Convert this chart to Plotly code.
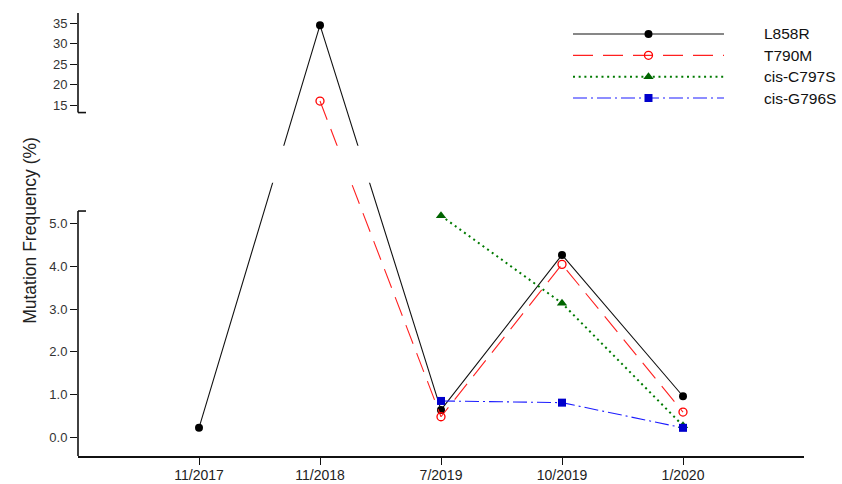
import plotly.graph_objects as go

# ---------------- data ----------------
dates = ["11/2017", "11/2018", "7/2019", "10/2019", "1/2020"]
series_names = ["L858R", "T790M", "cis-C797S", "cis-G796S"]
l858r = [0.22, 34.5, 0.64, 4.27, 0.96]
t790m = [None, 16.0, 0.48, 4.05, 0.59]
c797s = [None, None, 5.19, 3.14, 0.27]
g796s = [None, None, 0.85, 0.81, 0.22]
lower_ticks = [0, 1, 2, 3, 4, 5]
lower_tick_text = ["0.0", "1.0", "2.0", "3.0", "4.0", "5.0"]
upper_ticks = [15, 20, 25, 30, 35]
upper_tick_text = ["15", "20", "25", "30", "35"]

# ---------------- broken-axis mapping ----------------
LOWER_TOP = 5.96        # top of lower segment (data = display)
UPPER_BOTTOM = 6.83     # display value at bottom of upper segment
UPPER_REF = 15.0        # data value of reference tick in upper segment
UPPER_REF_DISP = 7.781  # display value of that tick
UPPER_SCALE = 0.09609   # display units per data unit in upper segment


def disp(v):
    if v is None:
        return None
    if v <= LOWER_TOP:
        return v
    return UPPER_REF_DISP + (v - UPPER_REF) * UPPER_SCALE


FONT = "Arial, Liberation Sans, sans-serif"
styles = {
    "L858R": dict(line=dict(color="#111111", width=1.1),
                  marker=dict(symbol="circle", size=8, color="#000000")),
    "T790M": dict(line=dict(color="#ff2020", width=1.1, dash="20px,10px"),
                  marker=dict(symbol="circle-open", size=8, color="#ff0000",
                              line=dict(width=1.3))),
    "cis-C797S": dict(line=dict(color="#007a00", width=2, dash="2px,3.7px"),
                      marker=dict(symbol="triangle-up", size=9, color="#006400")),
    "cis-G796S": dict(line=dict(color="#1c1cff", width=1.1, dash="14px,4px,2px,4px"),
                      marker=dict(symbol="square", size=8, color="#0000cc")),
}
values = {"L858R": l858r, "T790M": t790m, "cis-C797S": c797s, "cis-G796S": g796s}

fig = go.Figure()
for name in series_names:
    vals = values[name]
    xs = [d for d, v in zip(dates, vals) if v is not None]
    ys = [disp(v) for v in vals if v is not None]
    raw = [v for v in vals if v is not None]
    st = styles[name]
    fig.add_trace(go.Scatter(
        x=xs, y=ys, mode="lines+markers", name=name, showlegend=False,
        line=st["line"], marker=st["marker"], customdata=raw,
        hovertemplate=name + "<br>%{x}: %{customdata}%<extra></extra>",
        cliponaxis=False,
    ))

# custom legend (long line samples with marker in the middle)
LEG_DOM = [0.784, 0.9767]
for i, name in enumerate(series_names):
    st = styles[name]
    fig.add_trace(go.Scatter(x=[0, 1], y=[i, i], mode="lines", line=st["line"],
                             xaxis="x2", yaxis="y2", showlegend=False, hoverinfo="skip"))
    fig.add_trace(go.Scatter(x=[0.5], y=[i], mode="markers", marker=st["marker"],
                             xaxis="x2", yaxis="y2", showlegend=False, hoverinfo="skip",
                             cliponaxis=False))

annotations = []
n = len(series_names)
for i, name in enumerate(series_names):
    ypaper = LEG_DOM[1] - (i + 0.5) / n * (LEG_DOM[1] - LEG_DOM[0])
    annotations.append(dict(x=0.942, y=ypaper, xref="paper", yref="paper", text=name,
                            showarrow=False, xanchor="left", yanchor="middle",
                            font=dict(family=FONT, size=15.5, color="#111111")))
annotations.append(dict(x=-0.083, y=0.51, xref="paper", yref="paper",
                        text="Mutation Frequency (%)", textangle=-90, showarrow=False,
                        font=dict(family=FONT, size=17.5, color="#222222")))

ymin, ymax = -0.44, 9.94
shapes = [
    # gap of the broken axis
    dict(type="rect", xref="paper", yref="y", x0=0, x1=1, y0=LOWER_TOP, y1=UPPER_BOTTOM,
         fillcolor="white", line=dict(width=0), layer="above"),
    # lower y axis line + cap
    dict(type="line", xref="paper", yref="y", x0=0, x1=0, y0=ymin, y1=5.30,
         line=dict(color="#111111", width=1.6)),
    dict(type="line", xref="paper", yref="y", x0=0, x1=0.011, y0=5.30, y1=5.30,
         line=dict(color="#111111", width=1.6)),
    # upper y axis line + cap
    dict(type="line", xref="paper", yref="y", x0=0, x1=0, y0=7.607, y1=ymax,
         line=dict(color="#111111", width=1.6)),
    dict(type="line", xref="paper", yref="y", x0=0, x1=0.011, y0=7.607, y1=7.607,
         line=dict(color="#111111", width=1.6)),
]

tickvals = [disp(t) for t in lower_ticks] + [disp(t) for t in upper_ticks]
ticktext = lower_tick_text + upper_tick_text

fig.update_layout(
    width=842, height=484,
    margin=dict(l=78, r=38, t=13, b=28),
    paper_bgcolor="white", plot_bgcolor="white",
    font=dict(family=FONT, color="#222222"),
    showlegend=False,
    xaxis=dict(type="category", categoryorder="array", categoryarray=dates,
               range=[-1, 5], showgrid=False, zeroline=False,
               showline=True, linecolor="#111111", linewidth=1.6,
               ticks="outside", ticklen=7, tickwidth=1.4, tickcolor="#111111",
               tickfont=dict(family=FONT, size=14, color="#222222"),
               ticklabelstandoff=-2,
               automargin=False),
    yaxis=dict(range=[ymin, ymax], showgrid=False, zeroline=False, showline=False,
               tickvals=tickvals, ticktext=ticktext,
               ticks="outside", ticklen=7, tickwidth=1.4, tickcolor="#111111",
               tickfont=dict(family=FONT, size=13, color="#333333"),
               automargin=False),
    xaxis2=dict(domain=[0.6818, 0.8898], range=[0, 1], visible=False, anchor="y2"),
    yaxis2=dict(domain=LEG_DOM, range=[3.5, -0.5], visible=False, anchor="x2"),
    annotations=annotations,
    shapes=shapes,
)

fig.write_html("out.html", config={"displayModeBar": False},
               post_script="document.body.style.margin='0px';")
